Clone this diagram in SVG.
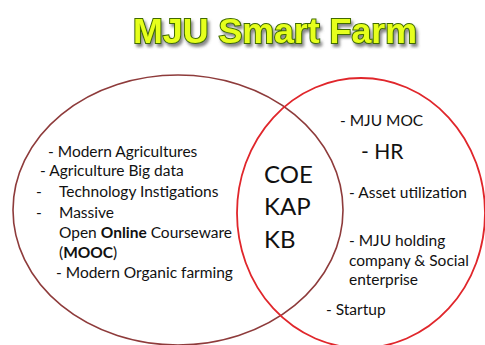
<svg xmlns="http://www.w3.org/2000/svg" width="485" height="345" viewBox="0 0 485 345">
<defs>
<filter id="sh" x="-10%" y="-30%" width="130%" height="170%">
<feDropShadow dx="2" dy="3" stdDeviation="1.5" flood-color="#555" flood-opacity="0.7"/>
</filter>
<style>
.t{font-family:Lato,"Open Sans",sans-serif;font-size:15.5px;fill:#111}
.c{font-family:Lato,"Open Sans",sans-serif;font-size:24px;fill:#111}
.ttl{font-family:"Liberation Sans",Arial,sans-serif;font-weight:bold;font-size:35px;fill:#E6FF1A;stroke:#3F6B00;stroke-width:2px;paint-order:stroke}
</style>
</defs>
<rect width="485" height="345" fill="#fff"/>
<g id="title"><text class="ttl" x="133" y="43" textLength="284" lengthAdjust="spacingAndGlyphs" filter="url(#sh)">MJU Smart Farm</text></g>
<g id="left">
<ellipse cx="178" cy="210" rx="165" ry="135" fill="none" stroke="#8E3B3B" stroke-width="1.6"/>
<text class="t" x="48" y="157">- Modern Agricultures</text>
<text class="t" x="40" y="176">- Agriculture Big data</text>
<text class="t" x="36" y="197">-</text>
<text class="t" x="59" y="197">Technology Instigations</text>
<text class="t" x="36" y="218">-</text>
<text class="t" x="59" y="218">Massive</text>
<text class="t" x="59" y="238">Open <tspan font-weight="bold">Online</tspan> Courseware</text>
<text class="t" x="59" y="258">(<tspan font-weight="bold">MOOC</tspan>)</text>
<text class="t" x="56" y="278">- Modern Organic farming</text>
</g>
<g id="right">
<ellipse cx="361" cy="213" rx="124" ry="135" fill="none" stroke="#E0262B" stroke-width="1.8"/>
<text class="t" x="340" y="126">- MJU MOC</text>
<text class="t" x="361" y="159" style="font-size:21px">- HR</text>
<text class="t" x="349" y="198">- Asset utilization</text>
<text class="t" x="349" y="246">- MJU holding</text>
<text class="t" x="349" y="266">company &amp; Social</text>
<text class="t" x="349" y="285">enterprise</text>
<text class="t" x="326" y="315">- Startup</text>
</g>
<g id="center">
<text class="c" x="264" y="183">COE</text>
<text class="c" x="264" y="215">KAP</text>
<text class="c" x="264" y="248">KB</text>
</g>
<g id="connectors"/>
</svg>
